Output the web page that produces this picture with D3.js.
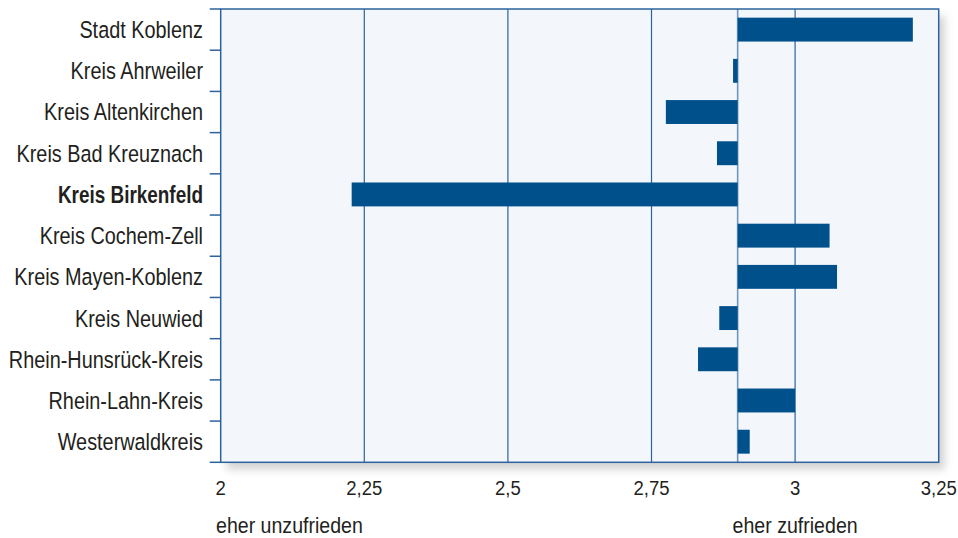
<!DOCTYPE html>
<html>
<head>
<meta charset="utf-8">
<script src="https://cdn.jsdelivr.net/npm/d3@7"></script>
<style>
  body { margin: 0; background: #fff; }
  svg { display: block; }
  text { font-family: "Liberation Sans", Arial, sans-serif; fill: #231f20; }
</style>
</head>
<body>
<svg id="chart"></svg>
<script>
// Kreise, Mittelwerte der Zufriedenheit
var regions = ["Stadt Koblenz", "Kreis Ahrweiler", "Kreis Altenkirchen", "Kreis Bad Kreuznach",
  "Kreis Birkenfeld", "Kreis Cochem-Zell", "Kreis Mayen-Koblenz", "Kreis Neuwied",
  "Rhein-Hunsrück-Kreis", "Rhein-Lahn-Kreis", "Westerwaldkreis"]
var scores = [3.205, 2.892, 2.775, 2.864, 2.228, 3.06, 3.073, 2.868, 2.831, 3.0, 2.921]
var highlight = "Kreis Birkenfeld"
var baseline = 2.9
var tickValues = [2, 2.25, 2.5, 2.75, 3, 3.25]
var endLabels = ["eher unzufrieden", "eher zufrieden"]

var screen = {width: 958, height: 538}
var box = {left: 220.7, top: 9, right: 938.7, bottom: 462.3}
var narrow = 0.845      // condensed look
var narrowBold = 0.805

var svg = d3.select("#chart")
  .attr("width", screen.width)
  .attr("height", screen.height)

var xscale = d3.scaleLinear().domain([2, 3.25]).range([box.left, box.right])
var yscale = d3.scaleBand().domain(regions).range([box.top, box.bottom]).paddingInner(0.42).paddingOuter(0.21)
var rowScale = d3.scaleBand().domain(regions).range([box.top, box.bottom])

// shadow
var defs = svg.append("defs")
defs.append("filter").attr("id", "shadow")
  .attr("x", "-5%").attr("y", "-5%").attr("width", "115%").attr("height", "115%")
  .append("feGaussianBlur").attr("stdDeviation", 4)

svg.append("rect")
  .attr("x", box.left + 6).attr("y", box.top + 7)
  .attr("width", box.right - box.left).attr("height", box.bottom - box.top)
  .attr("fill", "#d2d2d2")
  .attr("filter", "url(#shadow)")

svg.append("rect")
  .attr("x", box.left).attr("y", box.top)
  .attr("width", box.right - box.left).attr("height", box.bottom - box.top)
  .attr("fill", "#f3f7fc")

// gridlines
svg.selectAll(".grid")
  .data(tickValues.slice(1, -1))
  .enter()
  .append("line")
  .attr("x1", function(d) { return xscale(d) })
  .attr("x2", function(d) { return xscale(d) })
  .attr("y1", box.top).attr("y2", box.bottom)
  .attr("stroke", "#2d639c").attr("stroke-width", 1.2)

svg.append("line")
  .attr("x1", xscale(baseline)).attr("x2", xscale(baseline))
  .attr("y1", box.top).attr("y2", box.bottom)
  .attr("stroke", "#6f96c0").attr("stroke-width", 1.6)

// bars
svg.selectAll(".bar")
  .data(regions)
  .enter()
  .append("rect")
  .attr("class", "bar")
  .attr("x", function(d, i) { return xscale(Math.min(scores[i], baseline)) })
  .attr("width", function(d, i) { return Math.abs(xscale(scores[i]) - xscale(baseline)) })
  .attr("y", function(d) { return yscale(d) })
  .attr("height", yscale.bandwidth())
  .attr("fill", "#00508c")

// frame
svg.append("rect")
  .attr("x", box.left).attr("y", box.top)
  .attr("width", box.right - box.left).attr("height", box.bottom - box.top)
  .attr("fill", "none").attr("stroke", "#2d639c").attr("stroke-width", 1.5)

// y ticks between rows
var boundaries = regions.map(function(d) { return rowScale(d) }).concat([box.bottom])
svg.selectAll(".ytick")
  .data(boundaries)
  .enter()
  .append("line")
  .attr("x1", box.left - 11).attr("x2", box.left)
  .attr("y1", function(d) { return d }).attr("y2", function(d) { return d })
  .attr("stroke", "#2d639c").attr("stroke-width", 1.5)

// category labels
svg.selectAll(".label")
  .data(regions)
  .enter()
  .append("text")
  .attr("transform", function(d) {
    var sx = d == highlight ? narrowBold : narrow
    return "translate(203," + (rowScale(d) + rowScale.bandwidth() / 2) + ") scale(" + sx + ",1)"
  })
  .attr("dy", "0.36em")
  .attr("text-anchor", "end")
  .style("font-size", "23.5px")
  .style("font-weight", function(d) { return d == highlight ? "bold" : "normal" })
  .text(function(d) { return d })

// x tick labels
svg.selectAll(".xlabel")
  .data(tickValues)
  .enter()
  .append("text")
  .attr("transform", function(d) { return "translate(" + xscale(d) + ",495) scale(0.95,1)" })
  .attr("text-anchor", "middle")
  .style("font-size", "19.5px")
  .text(function(d) { return String(d).replace(".", ",") })

svg.append("text")
  .attr("transform", "translate(216,533) scale(0.89,1)")
  .style("font-size", "22px")
  .text(endLabels[0])

svg.append("text")
  .attr("transform", "translate(" + xscale(3) + ",533) scale(0.89,1)")
  .attr("text-anchor", "middle")
  .style("font-size", "22px")
  .text(endLabels[1])
</script>
</body>
</html>
